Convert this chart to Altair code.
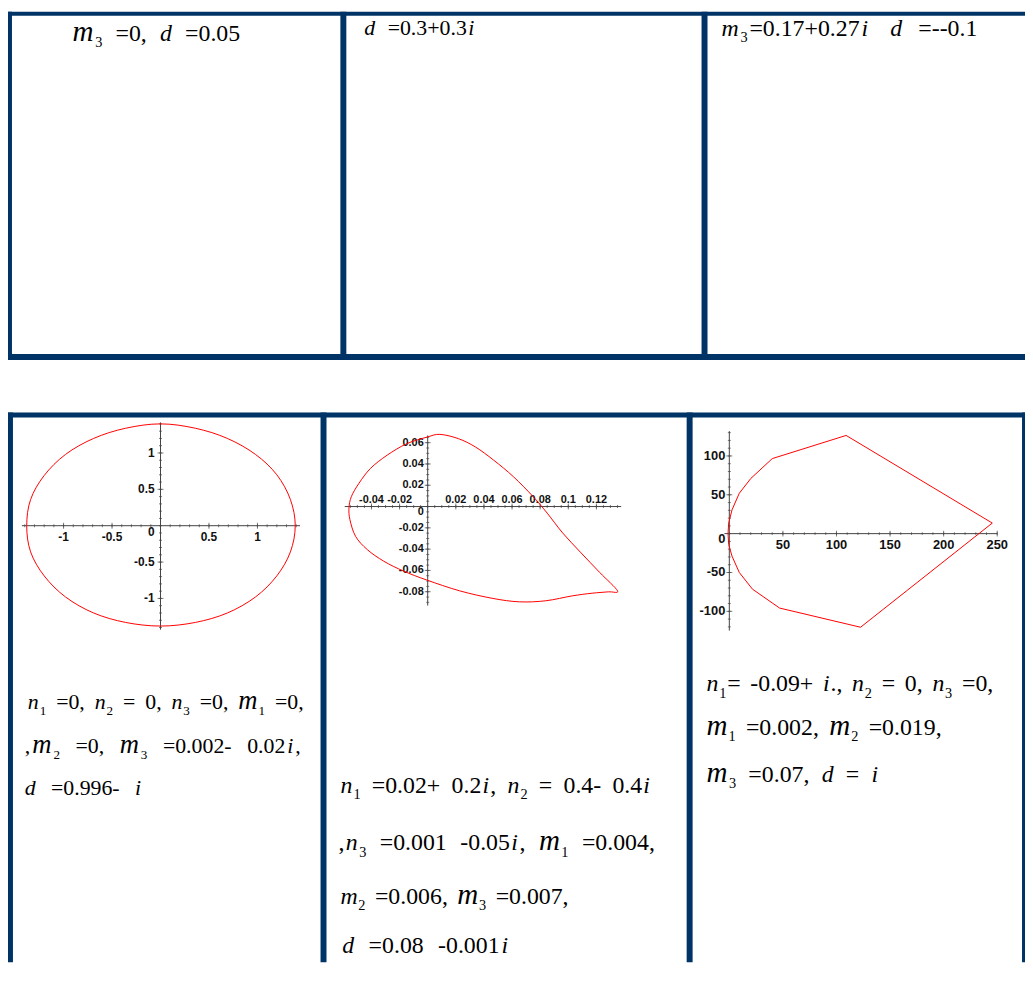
import re
import altair as alt
import pandas as pd

# ---------------- values ----------------
# panel 1 : closed curve (ellipse-like)
ellipse_x = [1.39, 1.34, 1.20, 0.98, 0.69, 0.36, 0.00, -0.36, -0.69, -0.98, -1.20, -1.34,
             -1.38, -1.34, -1.20, -0.98, -0.69, -0.36, 0.00, 0.36, 0.69, 0.98, 1.20, 1.34]
ellipse_y = [0.00, 0.36, 0.70, 0.98, 1.20, 1.34, 1.40, 1.34, 1.20, 0.98, 0.69, 0.36,
             0.00, -0.36, -0.69, -0.98, -1.20, -1.33, -1.38, -1.33, -1.20, -0.98, -0.69, -0.36]

# panel 2 : tear-drop loop
loop_x = [0.0087, -0.0002, -0.0148, -0.0289, -0.0407, -0.0489, -0.0543, -0.0560, -0.0553, -0.0513,
          -0.0430, -0.0313, -0.0172, -0.0007, 0.0228, 0.0464, 0.0652, 0.0840, 0.1028, 0.1169,
          0.1287, 0.1350, 0.1225, 0.1090, 0.0960, 0.0850, 0.0750, 0.0610, 0.0470, 0.0340, 0.0220]
loop_y = [0.0678, 0.0653, 0.0591, 0.0482, 0.0358, 0.0218, 0.0093, -0.0015, -0.0124, -0.0280,
          -0.0404, -0.0513, -0.0606, -0.0690, -0.0792, -0.0863, -0.0895, -0.0885, -0.0839, -0.0814,
          -0.0801, -0.0792, -0.0621, -0.0434, -0.0248, -0.0062, 0.0093, 0.0280, 0.0435, 0.0559, 0.0637]

# panel 3 : polygon-like loop
poly_x = [109, 245.4, 122.5, 46.9, 21.6, 9.3, 2.5, -0.6, -1.2, -0.6, 2.5, 9.3, 20.1, 40.1]
poly_y = [126.4, 13.6, -120.5, -95.8, -71.5, -50, -29, -14, 0, 13.6, 30.6, 52.0, 71.1, 96.6]

# tick labels
p1_xlabels = ["-1", "-0.5", "0.5", "1"]
p1_ylabels = ["1", "0.5", "-0.5", "-1"]
p2_xlabels = ["-0.04", "-0.02", "0.02", "0.04", "0.06", "0.08", "0.1", "0.12"]
p2_ylabels = ["0.06", "0.04", "0.02", "-0.02", "-0.04", "-0.06", "-0.08"]
p3_xlabels = ["50", "100", "150", "200", "250"]
p3_ylabels = ["100", "50", "-50", "-100"]

# cell texts  (*x* = italic letter, *M* = large italic m, _k = subscript)
top_texts = ["*M*_3 =0, *d* =0.05",
             "*d* =0.3+0.3*i*",
             "*m*_3=0.17+0.27*i*  *d* =--0.1"]
cell1_texts = ["*n*_1 =0, *n*_2 = 0, *n*_3 =0, *M*_1 =0,",
               ",*M*_2 =0, *M*_3 =0.002- 0.02*i*,",
               "*d* =0.996- *i*"]
cell2_texts = ["*n*_1 =0.02+ 0.2*i*, *n*_2 = 0.4- 0.4*i*",
               ",*n*_3 =0.001 -0.05*i*, *M*_1 =0.004,",
               "*m*_2 =0.006, *M*_3 =0.007,",
               "*d* =0.08 -0.001*i*"]
cell3_texts = ["*n*_1= -0.09+ *i*., *n*_2 = 0, *n*_3 =0,",
               "*M*_1 =0.002, *M*_2 =0.019,",
               "*M*_3 =0.07, *d* = *i*"]

# ---------------- layout / style ----------------
W, H = 1025, 958
OFF = 8
NAVY = "#003366"
AXC = "#444444"
LABC = "#111111"
RED = "#ff0000"
SERIF = "'Liberation Serif', 'Times New Roman', Times, serif"

# table borders (page pixel rectangles: x0, x1, y0, y1)
borders = [
    (6, 1040, 8, 12), (6, 1040, 353, 359),
    (6, 12, 8, 359), (343, 349, 8, 359), (707, 713, 8, 359),
    (7, 1040, 412, 417),
    (7, 13, 412, H + OFF), (323, 329, 412, H + OFF), (692, 698, 412, H + OFF), (1030, 1036, 412, H + OFF),
]


def xdomain(px0, ppu):
    x0 = px0 - OFF
    d0 = -x0 / ppu
    return [d0, d0 + W / ppu]


def ydomain(py0, ppu):
    y0 = py0 - OFF
    e0 = (y0 - H) / ppu
    return [e0, e0 + H / ppu]


def frange(a, b, step):
    n = int(round((b - a) / step))
    return [round(a + k * step, 6) for k in range(n + 1)]


def plot_layers(px0, xppu, py0, yppu, xext, yext, xminor, yminor, xlab, ylab,
                lab_size, xlab_dy, ydx, zero_dy, xs, ys, interp):
    sx = alt.Scale(domain=xdomain(px0, xppu), nice=False, zero=False)
    sy = alt.Scale(domain=ydomain(py0, yppu), nice=False, zero=False)

    def X(f):
        return alt.X(f, type="quantitative", scale=sx, axis=None)

    def Y(f):
        return alt.Y(f, type="quantitative", scale=sy, axis=None)

    layers = []
    ax = pd.DataFrame({"x": [xext[0], 0], "x2": [xext[1], 0], "y": [0, yext[0]], "y2": [0, yext[1]]})
    layers.append(alt.Chart(ax).mark_rule(color=AXC, strokeWidth=1).encode(
        x=X("x"), x2=alt.X2("x2"), y=Y("y"), y2=alt.Y2("y2")))
    xmaj = [float(t) for t in xlab]
    ymaj = [float(t) for t in ylab]
    tx = pd.DataFrame({"v": xminor, "z": 0.0})
    txm = pd.DataFrame({"v": xmaj, "z": 0.0})
    ty = pd.DataFrame({"v": yminor, "z": 0.0})
    tym = pd.DataFrame({"v": ymaj, "z": 0.0})
    layers.append(alt.Chart(tx).mark_tick(orient="vertical", size=3, thickness=1, color=AXC).encode(x=X("v"), y=Y("z")))
    layers.append(alt.Chart(txm).mark_tick(orient="vertical", size=6, thickness=1, color=AXC).encode(x=X("v"), y=Y("z")))
    layers.append(alt.Chart(ty).mark_tick(orient="horizontal", size=3, thickness=1, color=AXC).encode(x=X("z"), y=Y("v")))
    layers.append(alt.Chart(tym).mark_tick(orient="horizontal", size=6, thickness=1, color=AXC).encode(x=X("z"), y=Y("v")))
    lx = pd.DataFrame({"v": xmaj, "z": 0.0, "t": xlab})
    ly = pd.DataFrame({"v": ymaj, "z": 0.0, "t": ylab})
    lz = pd.DataFrame({"v": [0.0], "z": [0.0], "t": ["0"]})
    common = dict(font="Liberation Sans", fontWeight="bold", fontSize=lab_size, color=LABC)
    layers.append(alt.Chart(lx).mark_text(align="center", baseline="middle", dy=xlab_dy, **common).encode(
        x=X("v"), y=Y("z"), text="t:N"))
    layers.append(alt.Chart(ly).mark_text(align="right", baseline="middle", dx=ydx, **common).encode(
        x=X("z"), y=Y("v"), text="t:N"))
    layers.append(alt.Chart(lz).mark_text(align="right", baseline="middle", dx=ydx, dy=zero_dy, **common).encode(
        x=X("z"), y=Y("v"), text="t:N"))
    curve = pd.DataFrame({"x": xs, "y": ys, "i": list(range(len(xs)))})
    layers.append(alt.Chart(curve).mark_line(color=RED, strokeWidth=1, interpolate=interp).encode(
        x=X("x"), y=Y("y"), order="i:Q"))
    return layers


# ---------- equation text layout (Times metrics) ----------
W_REG = {**{c: 0.5 for c in "0123456789"}, ".": 0.25, ",": 0.25, " ": 0.25,
         "=": 0.564, "+": 0.564, "-": 0.333, "i": 0.278}
W_IT = {"m": 0.722, "n": 0.5, "d": 0.5, "i": 0.278}


def layout(markup, x0, x1, base, fs):
    items = []
    for it, sub, reg in re.findall(r"\*(\w)\*|_(\d)|([^*_]+)", markup):
        if it:
            big = it == "M"
            size = fs * 1.22 if big else fs
            ch = "m" if big else it
            items.append([ch, "italic", size, 0.0, W_IT[ch] * size])
        elif sub:
            size = fs * 0.6
            items.append([sub, "normal", size, 0.27 * fs, 0.5 * size])
        else:
            for p in re.split(r"( +)", reg):
                if not p:
                    continue
                if p.strip() == "":
                    items.append([None, None, fs, 0.0, 0.25 * fs * len(p)])
                else:
                    items.append([p, "normal", fs, 0.0, sum(W_REG.get(c, 0.5) for c in p) * fs])
    natural = sum(i[4] for i in items)
    extra = (x1 - x0) - natural
    gaps = [k for k, i in enumerate(items) if i[0] is None]
    bounds = len(items) - 1
    rows = []
    cx = x0
    for k, (t, style, size, dy, w) in enumerate(items):
        if t is not None:
            rows.append(dict(t=t, style=style, size=size, px=cx - OFF, py=base + dy - OFF))
        add = 0.0
        if k < bounds:
            add += 0.5 * extra / bounds
            if gaps and k in gaps:
                add += 0.5 * extra / len(gaps)
            elif not gaps:
                add += 0.5 * extra / bounds
        cx += w + add
    return rows


text_specs = [
    (top_texts[0], 73, 242, 37, 24),
    (top_texts[1], 367, 478, 31, 22),
    (top_texts[2], 727, 985, 32, 24),
    (cell1_texts[0], 28, 306, 711, 22),
    (cell1_texts[1], 25, 303, 755, 22),
    (cell1_texts[2], 25, 142, 797, 22),
    (cell2_texts[0], 343, 655, 795, 24),
    (cell2_texts[1], 341, 660, 853, 24),
    (cell2_texts[2], 343, 573, 907, 24),
    (cell2_texts[3], 345, 512, 957, 24),
    (cell3_texts[0], 712, 1001, 693, 24),
    (cell3_texts[1], 712, 949, 737, 24),
    (cell3_texts[2], 712, 885, 784, 24),
]
rows = []
for spec in text_specs:
    rows += layout(*spec)
tdf = pd.DataFrame(rows)

layers = []
bdf = pd.DataFrame([dict(x=a - OFF, x2=b - OFF, y=c - OFF, y2=d - OFF) for a, b, c, d in borders])
layers.append(alt.Chart(bdf).mark_rect(color=NAVY).encode(
    x=alt.X("x:Q", scale=None), x2="x2", y=alt.Y("y:Q", scale=None), y2="y2"))

layers += plot_layers(161.7, 97.7, 526.0, 73.3, [-1.43, 1.44], [1.42, -1.43],
                      frange(-1.4, 1.4, 0.1), frange(-1.4, 1.4, 0.1), p1_xlabels, p1_ylabels,
                      12, 11, -6, 6, ellipse_x, ellipse_y, "cardinal-closed")
layers += plot_layers(431.0, 1417.0, 506.7, 1073.0, [-0.059, 0.1376], [0.0668, -0.093],
                      frange(-0.055, 0.135, 0.005), frange(-0.09, 0.065, 0.005), p2_xlabels, p2_ylabels,
                      11, -7, -4, 6, loop_x, loop_y, "cardinal-closed")
layers += plot_layers(735.0, 1.08, 534.0, 0.783, [-4.6, 250], [132, -124.8],
                      frange(0, 250, 10), frange(-120, 130, 10), p3_xlabels, p3_ylabels,
                      13, 11, -4, 5, poly_x, poly_y, "linear-closed")

for style in ["normal", "italic"]:
    sub = tdf[tdf["style"] == style]
    layers.append(alt.Chart(sub).mark_text(font=SERIF, fontStyle=style, align="left",
                                            baseline="alphabetic", color="black").encode(
        x=alt.X("px:Q", scale=None), y=alt.Y("py:Q", scale=None), text="t:N",
        size=alt.Size("size:Q", scale=None, legend=None)))

chart = alt.layer(*layers).resolve_scale(x="independent", y="independent").properties(
    width=W, height=H, padding=0, autosize=alt.AutoSizeParams(type="none")
).configure_view(stroke=None)

chart.save("out.html", embed_options={"renderer": "svg", "actions": False})
